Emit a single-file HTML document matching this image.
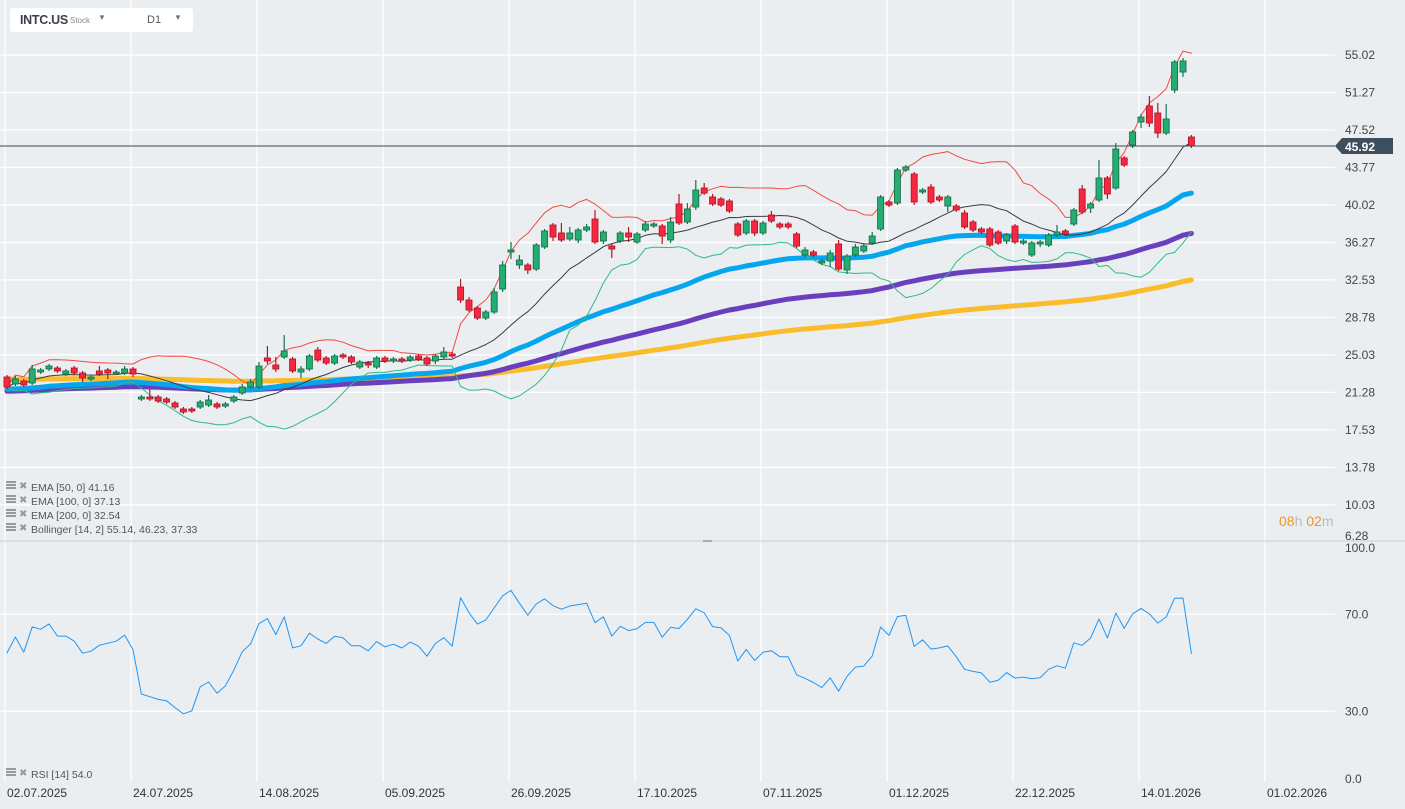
<!DOCTYPE html>
<html><head><meta charset="utf-8"><style>
html,body{margin:0;padding:0;background:#ebeef1;width:1405px;height:809px;overflow:hidden;font-family:"Liberation Sans",sans-serif;}
#hdr{position:absolute;left:10px;top:8px;width:183px;height:24px;background:#fff;border-radius:3px;}
svg{position:absolute;left:0;top:0;}
</style></head><body>
<svg id="chart" width="1405" height="809"></svg>
<div id="hdr">
 <span style="position:absolute;left:10px;top:5px;font-weight:bold;font-size:12.5px;letter-spacing:-0.3px;color:#3a4149">INTC.US</span>
 <span style="position:absolute;left:60px;top:8px;font-size:8px;color:#888">Stock</span>
 <span style="position:absolute;left:88px;top:5px;font-size:8px;color:#777">▼</span>
 <span style="position:absolute;left:137px;top:6px;font-size:11px;color:#555">D1</span>
 <span style="position:absolute;left:164px;top:5px;font-size:8px;color:#777">▼</span>
</div>
<script>
const opens=[22.82,22.12,22.42,22.22,23.32,23.62,23.72,23.12,23.72,23.22,22.62,23.42,23.52,23.22,23.22,23.62,20.62,20.82,20.82,20.62,20.22,19.62,19.62,19.82,20.02,20.12,19.92,20.42,21.22,21.82,21.82,24.72,24.02,24.82,24.62,23.32,23.62,25.52,24.72,24.22,25.02,24.82,23.82,24.22,23.82,24.72,24.42,24.62,24.52,24.92,24.72,24.42,24.82,25.12,31.82,30.52,29.72,28.72,29.32,31.62,35.32,34.02,34.02,33.62,35.82,38.02,37.22,36.62,36.52,37.52,38.62,36.42,35.92,36.42,37.22,36.32,37.52,37.92,37.92,36.52,40.12,38.32,39.82,41.72,40.82,40.62,40.42,38.12,37.22,38.42,37.22,39.02,38.12,38.12,37.12,35.02,35.32,34.22,34.42,36.12,33.52,35.02,35.42,36.22,37.62,40.32,40.22,43.52,43.12,41.32,41.82,40.82,39.92,39.92,39.22,38.32,37.62,37.62,37.32,36.42,37.92,36.22,35.02,36.12,36.02,37.02,37.42,38.12,41.62,39.72,40.52,42.72,41.72,44.72,46.02,48.32,49.92,49.22,47.22,51.52,53.32,46.82];
const closes=[21.82,22.62,22.02,23.62,23.52,23.92,23.42,23.42,23.22,22.72,22.82,23.12,23.22,23.32,23.62,23.12,20.82,20.62,20.42,20.32,19.82,19.32,19.42,20.32,20.52,19.82,20.12,20.82,21.82,22.32,23.92,24.42,23.62,25.42,23.42,23.62,24.92,24.52,24.22,24.92,24.82,24.32,24.32,24.02,24.72,24.42,24.62,24.42,24.82,24.62,24.12,24.92,25.32,24.92,30.52,29.52,28.72,29.32,31.32,34.02,35.52,34.52,33.52,36.02,37.42,36.82,36.52,37.22,37.52,37.82,36.32,37.32,35.62,37.22,36.82,37.12,38.12,38.12,36.92,38.32,38.22,39.62,41.52,41.22,40.12,40.02,39.42,37.02,38.42,37.22,38.22,38.42,37.82,37.82,35.92,35.52,35.02,34.42,35.22,33.62,34.92,35.82,35.92,36.92,40.82,40.02,43.52,43.82,40.32,41.52,40.32,40.52,40.82,39.52,37.82,37.52,37.32,36.02,36.22,37.02,36.32,36.42,36.22,36.32,37.02,37.32,37.12,39.52,39.32,40.12,42.72,41.12,45.62,44.02,47.32,48.82,48.22,47.22,48.62,54.32,54.42,45.92];
const wickUp=[0.2,0.3,0.2,0.4,0.2,0.2,0.2,0.2,0.2,0.2,0.2,0.5,0.2,0.2,0.3,0.2,0.2,0.8,0.2,0.2,0.2,0.2,0.2,0.2,0.5,0.2,0.2,0.2,0.3,0.3,0.4,1.2,0.8,1.6,0.2,0.3,0.2,0.3,0.2,0.2,0.2,0.2,0.2,0.2,0.2,0.2,0.2,0.2,0.2,0.2,0.2,0.2,0.5,0.2,0.8,0.3,0.2,0.2,0.4,0.4,0.8,0.5,0.2,0.2,0.2,0.2,1.0,0.6,0.2,0.3,0.9,0.2,0.2,0.2,0.6,0.2,0.3,0.2,0.2,0.5,1.0,0.6,1.0,0.5,0.3,0.2,0.2,0.2,0.2,0.2,0.2,0.4,0.2,0.2,0.2,0.3,0.2,0.2,0.3,0.4,0.2,0.3,0.3,0.4,0.2,0.2,0.2,0.2,0.2,0.2,0.3,0.2,0.2,0.2,0.3,0.2,0.2,0.2,0.2,0.2,0.2,0.2,0.2,0.2,0.2,0.7,0.2,0.2,0.4,0.2,1.8,0.2,0.6,0.2,0.2,0.3,1.0,1.0,1.5,0.2,0.3,0.2,0.6];
const wickDn=[0.2,0.2,0.2,0.2,0.2,0.2,0.2,0.2,0.2,0.4,0.2,0.2,0.6,0.2,0.2,0.3,0.2,0.2,0.2,0.2,0.2,0.2,0.2,0.2,0.2,0.2,0.2,0.2,0.2,0.2,0.2,0.3,0.3,0.2,0.2,0.6,0.2,0.2,0.2,0.2,0.2,0.2,0.2,0.3,0.2,0.2,0.2,0.2,0.2,0.2,0.2,0.3,0.2,0.2,0.3,0.2,0.2,0.2,0.2,0.3,0.7,0.4,0.4,0.2,0.2,0.4,0.2,0.2,0.3,0.2,0.2,0.3,0.9,0.2,0.5,0.2,0.2,0.2,0.8,0.3,0.2,0.2,0.3,0.2,0.2,0.2,0.2,0.2,0.2,0.3,0.2,0.2,0.2,0.2,0.2,0.2,0.2,0.2,0.6,0.2,0.4,0.2,0.2,0.2,0.2,0.2,0.2,0.2,0.3,0.2,0.2,0.2,0.6,0.2,0.2,0.2,0.2,0.2,0.2,0.3,0.2,0.2,0.2,0.3,0.2,0.2,0.2,0.2,0.2,0.5,0.2,0.5,0.2,0.2,0.3,0.6,0.4,0.5,0.2,0.3,0.5,0.2,0.3];
const priceTicks=["55.02","51.27","47.52","43.77","40.02","36.27","32.53","28.78","25.03","21.28","17.53","13.78","10.03"];
const dateLabels=["02.07.2025","24.07.2025","14.08.2025","05.09.2025","26.09.2025","17.10.2025","07.11.2025","01.12.2025","22.12.2025","14.01.2026","01.02.2026"];
const rsiTicks=[100,70,30,0];
const emaSeeds=[21.6,21.4,22.6];
const lastPrice=45.92;

const svg=document.getElementById('chart');
const NS='http://www.w3.org/2000/svg';
function mk(tag,attrs,parent){const e=document.createElementNS(NS,tag);for(const k in attrs)e.setAttribute(k,attrs[k]);(parent||svg).appendChild(e);return e;}
const X=i=>7+8.4*i;
const Y=p=>55+(55.02-p)*10;
const RY=v=>784-v*2.425;

const grid=mk('g',{});


for(let k=0;k<11;k++){const gx=5+126*k;mk('line',{x1:gx,y1:0,x2:gx,y2:782,stroke:'#fff','stroke-width':1.2},grid);}
priceTicks.forEach(t=>{const y=Y(parseFloat(t));mk('line',{x1:0,y1:y,x2:1335,y2:y,stroke:'#fff','stroke-width':1.2},grid);});
[70,30].forEach(v=>mk('line',{x1:0,y1:RY(v),x2:1335,y2:RY(v),stroke:'#fff','stroke-width':1.2},grid));
mk('line',{x1:0,y1:541,x2:1405,y2:541,stroke:'#d6dadf','stroke-width':1.5},grid);
mk('line',{x1:703,y1:541,x2:712,y2:541,stroke:'#999','stroke-width':1.5},grid);

priceTicks.forEach(t=>{const tx=mk('text',{x:1345,y:Y(parseFloat(t))+4,'font-size':12,fill:'#444'});tx.textContent=t;

});
{const tx=mk('text',{x:1345,y:540,'font-size':12,fill:'#444'});tx.textContent='6.28';

}
rsiTicks.forEach(v=>{let y=RY(v)+4;if(v===100)y=552;if(v===0)y=783;const tx=mk('text',{x:1345,y:y,'font-size':12,fill:'#444'});tx.textContent=v.toFixed(1);

});
dateLabels.forEach((d,k)=>{const tx=mk('text',{x:7+126*k,y:797,'font-size':12,fill:'#333'});tx.textContent=d;

});

function ema(period,seed){const a=2/(period+1);let e=seed;return closes.map((c,i)=>{if(i>0)e=e+a*(c-e);return e;});}
function poly(vals,yf,color,w,name){const pts=vals.map((v,i)=>X(i).toFixed(1)+','+yf(v).toFixed(1)).join(' ');const p=mk('polyline',{points:pts,fill:'none',stroke:color,'stroke-width':w,'stroke-linejoin':'round','stroke-linecap':'round'});

return p;}
const e200=ema(200,emaSeeds[2]),e100=ema(100,emaSeeds[1]),e50=ema(50,emaSeeds[0]);
poly(e200,Y,'#fbbc2c',5,'ema-200-line');
poly(e100,Y,'#6a3fbd',5,'ema-100-line');
poly(e50,Y,'#06a6ef',5,'ema-50-line');
const mid=[],up=[],lo=[];
closes.forEach((c,i)=>{const s=closes.slice(Math.max(0,i-13),i+1);const m=s.reduce((a,b)=>a+b,0)/s.length;const sd=Math.sqrt(s.reduce((a,b)=>a+(b-m)*(b-m),0)/s.length);mid.push(m);up.push(m+2*sd);lo.push(m-2*sd);});
poly(up,Y,'#ef4b43',1,'bollinger-upper');
poly(mid,Y,'#3a3d40',1,'bollinger-middle');
poly(lo,Y,'#2dbb85',1,'bollinger-lower');

closes.forEach((c,i)=>{const o=opens[i];const g=c>=o;const hi=Math.max(o,c)+wickUp[i],lw=Math.min(o,c)-wickDn[i];
const grp=mk('g',{});


const col=g?'#25ad74':'#f4283e',bd=g?'#15724a':'#b81428';
mk('line',{x1:X(i),x2:X(i),y1:Y(hi),y2:Y(lw),stroke:bd,'stroke-width':1.2},grp);
const top=Y(Math.max(o,c)),h=Math.max(1.5,Math.abs(Y(o)-Y(c)));
mk('rect',{x:X(i)-3,y:top,width:6,height:h,fill:col,stroke:bd,'stroke-width':0.9},grp);});

mk('line',{x1:0,y1:Y(lastPrice),x2:1335,y2:Y(lastPrice),stroke:'#34495a','stroke-width':1});
const tag=mk('polygon',{points:`1335,${Y(lastPrice)} 1342,${Y(lastPrice)-8} 1393,${Y(lastPrice)-8} 1393,${Y(lastPrice)+8} 1342,${Y(lastPrice)+8}`,fill:'#3d4e5c'});


{const tx=mk('text',{x:1345,y:Y(lastPrice)+5,'font-size':12,'font-weight':'bold',fill:'#fff'});tx.textContent=lastPrice.toFixed(2);

}

let ag=0.2,al=0.17;const rsi=closes.map((c,i)=>{if(i>0){const d=c-closes[i-1];ag=(ag*13+Math.max(d,0))/14;al=(al*13+Math.max(-d,0))/14;}return 100-100/(1+ag/al);});
poly(rsi,RY,'#2196f3',1,'rsi-line');

const legends=["EMA [50,  0] 41.16","EMA [100,  0] 37.13","EMA [200,  0] 32.54","Bollinger  [14, 2] 55.14,  46.23,  37.33"];
legends.forEach((t,k)=>{const y=488+14*k;const g=mk('g',{});


mk('rect',{x:6,y:y-7,width:10,height:2,fill:'#999'},g);mk('rect',{x:6,y:y-4,width:10,height:2,fill:'#999'},g);mk('rect',{x:6,y:y-1,width:10,height:2,fill:'#999'},g);
const x=mk('text',{x:19,y:y+1,'font-size':10,fill:'#999'},g);x.textContent='✖';
const tx=mk('text',{x:31,y:y+3,'font-size':10.5,fill:'#555'},g);tx.textContent=t;});
{const y=775;const g=mk('g',{});


mk('rect',{x:6,y:y-7,width:10,height:2,fill:'#999'},g);mk('rect',{x:6,y:y-4,width:10,height:2,fill:'#999'},g);mk('rect',{x:6,y:y-1,width:10,height:2,fill:'#999'},g);
const x=mk('text',{x:19,y:y+1,'font-size':10,fill:'#999'},g);x.textContent='✖';
const tx=mk('text',{x:31,y:y+3,'font-size':10.5,fill:'#555'},g);tx.textContent='RSI [14]  54.0';}

{const tx=mk('text',{x:1279,y:526,'font-size':14});


tx.innerHTML='<tspan fill="#f7931e">08</tspan><tspan fill="#bbb">h </tspan><tspan fill="#f7931e">02</tspan><tspan fill="#bbb">m</tspan>';}
</script>
</body></html>
